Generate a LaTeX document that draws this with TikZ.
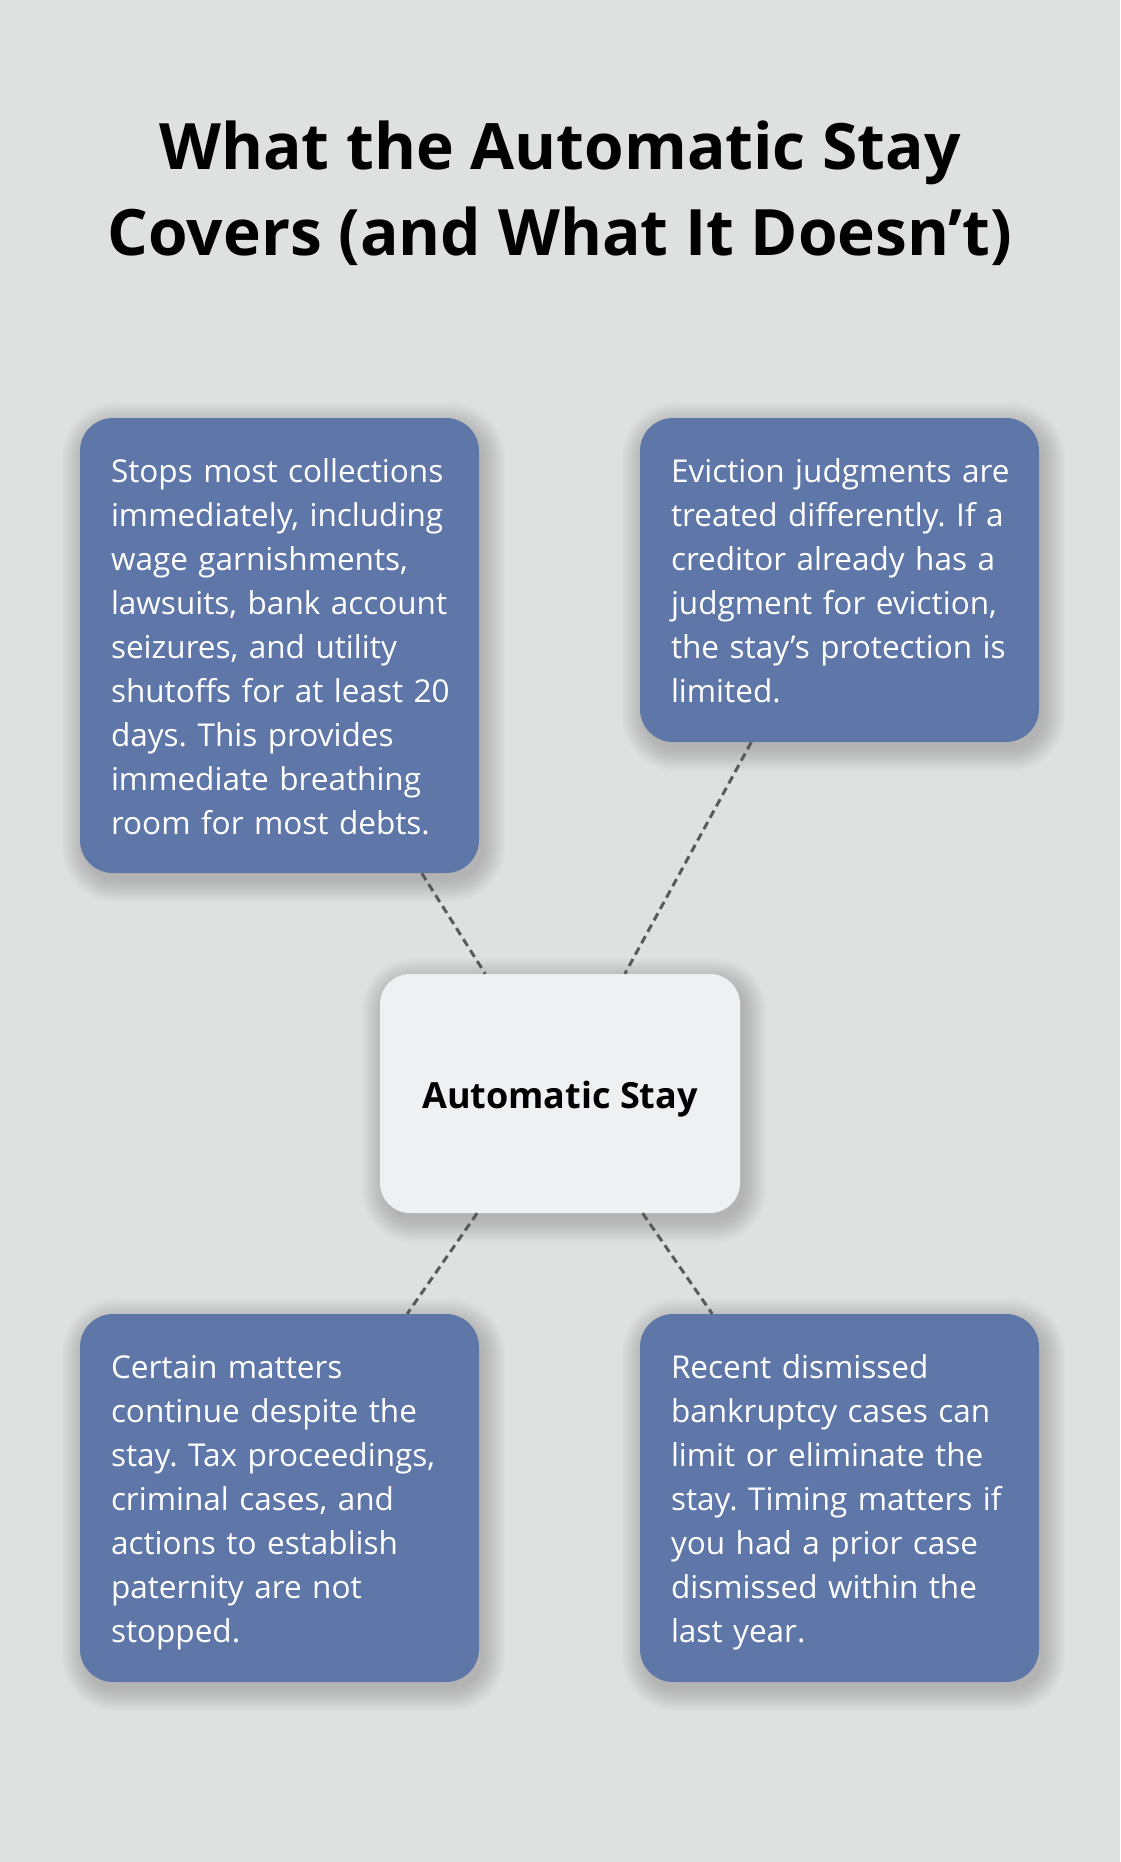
\documentclass[tikz,border=0pt]{standalone}
\usepackage{fontspec}
\setmainfont{Open Sans}
\usetikzlibrary{calc}
\pgfdeclarelayer{background}
\pgfsetlayers{background,main}
\definecolor{bgc}{HTML}{DFE1E0}
\definecolor{boxblue}{HTML}{5E77A8}
\definecolor{centerfill}{HTML}{EFF0F2}
\definecolor{dashc}{HTML}{5A5A5A}
\tikzset{
  infobox/.style={draw=none, fill=boxblue, rounded corners=33pt, text=white,
    text width=337pt, align=left, inner xsep=31pt, inner ysep=0pt,
    minimum width=399pt, font=\fontsize{31.5}{44}\selectfont\frenchspacing},
  centerbox/.style={draw=none, fill=centerfill, rounded corners=30pt, text=black,
    minimum width=360pt, minimum height=239pt, text height=29pt, text depth=0pt,
    font=\fontsize{36}{42}\selectfont\bfseries},
  titletext/.style={font=\fontsize{64}{86}\selectfont\bfseries, text=black, inner sep=0pt},
  link/.style={draw=dashc, line width=3pt, dash pattern=on 8pt off 5pt},
  shadowlayer/.style={fill=black, opacity=0.016}
}
\newcommand{\boxlines}[1]{\raisebox{-4pt}[\height][\depth]{\begin{tabular}{@{}l@{}}#1\end{tabular}}}
\begin{document}
\begin{tikzpicture}[x=1pt,y=-1pt]
\begin{pgfonlayer}{background}
\fill[bgc] (0,0) rectangle (1120,1862);
\end{pgfonlayer}
\useasboundingbox (0,0) rectangle (1120,1862);

\node[titletext, anchor=base] (title1) at (560,170) {What the Automatic Stay};
\node[titletext, anchor=base] (title2) at (560,256) {Covers (and What It Doesn’t)};

\node[infobox, minimum height=455pt] (tl) at (279.5,645.5) {\boxlines{Stops most collections\\immediately, including\\wage garnishments,\\lawsuits, bank account\\seizures, and utility\\shutoffs for at least 20\\days. This provides\\immediate breathing\\room for most debts.}};

\node[infobox, minimum height=324pt] (tr) at (839.5,580) {\boxlines{Eviction judgments are\\treated differently. If a\\creditor already has a\\judgment for eviction,\\the stay’s protection is\\limited.}};

\node[centerbox] (c) at (560,1093.5) {Automatic Stay};

\node[infobox, minimum height=368pt] (bl) at (279.5,1498) {\boxlines{Certain matters\\continue despite the\\stay. Tax proceedings,\\criminal cases, and\\actions to establish\\paternity are not\\stopped.}};

\node[infobox, minimum height=368pt] (br) at (839.5,1498) {\boxlines{Recent dismissed\\bankruptcy cases can\\limit or eliminate the\\stay. Timing matters if\\you had a prior case\\dismissed within the\\last year.}};

\begin{pgfonlayer}{background}
\foreach \n/\rc in {tl/33, tr/33, c/30, bl/33, br/33} {
  \foreach \r in {0,2,...,22} {
    \fill[shadowlayer, rounded corners=\rc pt+\r pt]
      ($(\n.north west)+(4-\r,7-\r)$) rectangle ($(\n.south east)+(4+\r,7+\r)$);
  }
}
\end{pgfonlayer}

\draw[link] (tl) -- (c);
\draw[link] (tr) -- (c);
\draw[link] (c) -- (bl);
\draw[link] (c) -- (br);
\end{tikzpicture}
\end{document}
